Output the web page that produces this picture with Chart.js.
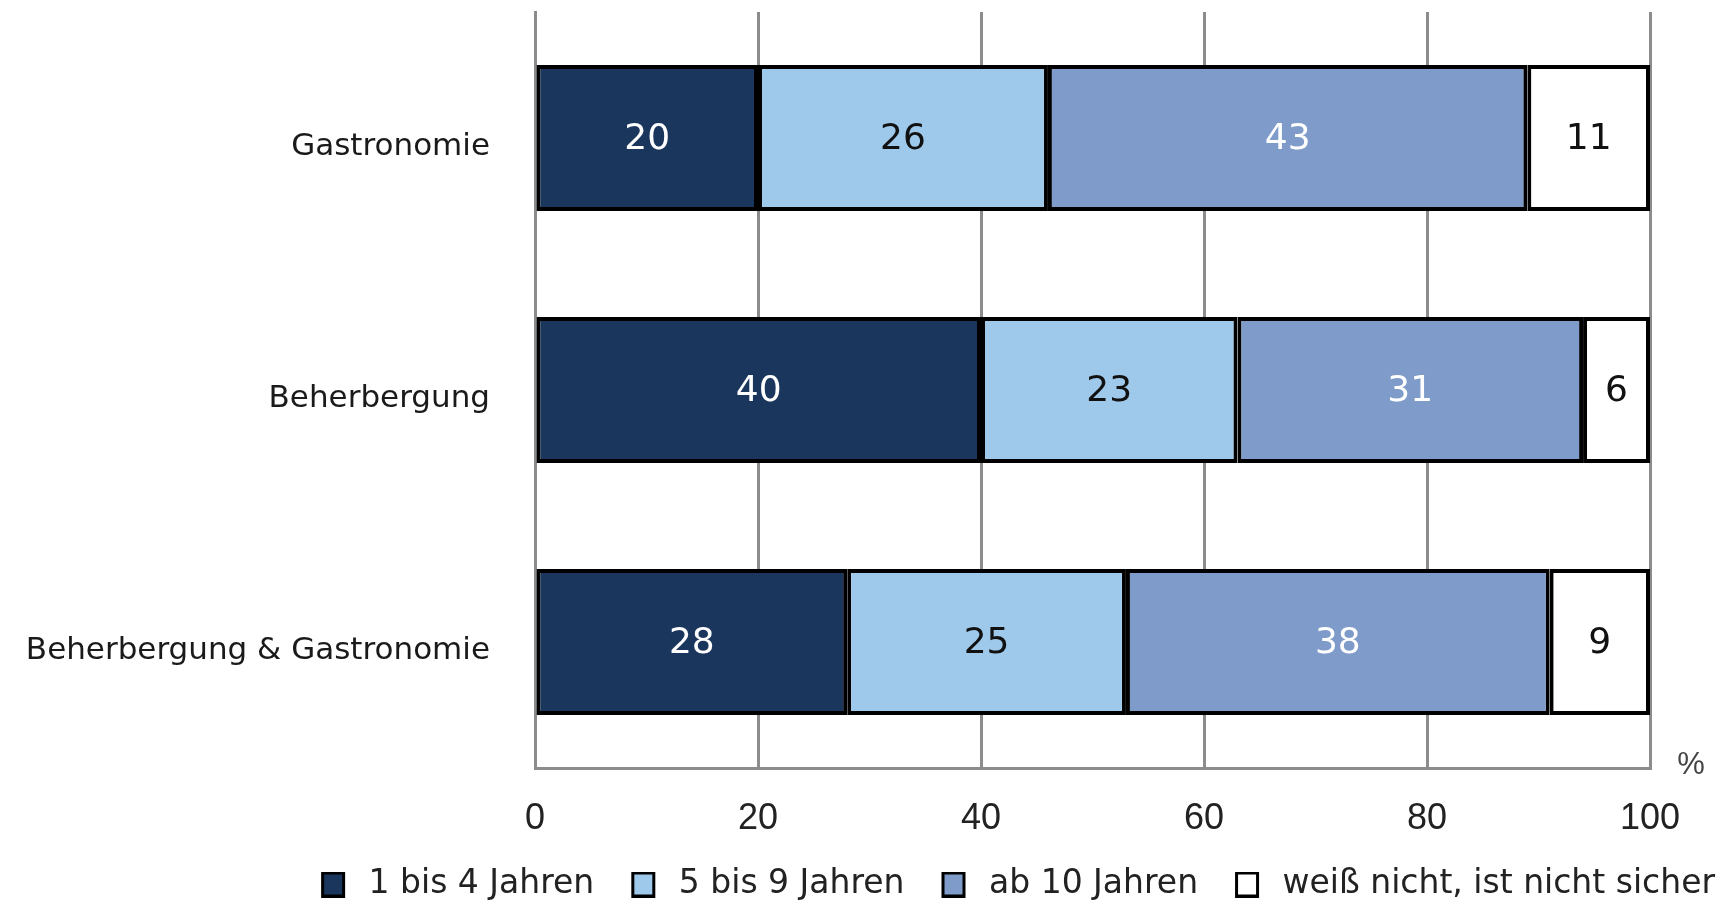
<!DOCTYPE html>
<html>
<head>
<meta charset="utf-8">
<script src="https://cdn.jsdelivr.net/npm/chart.js@4.4.1/dist/chart.umd.min.js"></script>
<style>
  html, body { margin: 0; padding: 0; background: #fff; }
  #wrap { width: 1727px; height: 900px; }
</style>
</head>
<body>
<div id="wrap"><canvas id="chart"></canvas></div>
<script>
// categories and values (percent)
const branchen = ['Gastronomie', 'Beherbergung', 'Beherbergung & Gastronomie']
const seriesNames = ['1 bis 4 Jahren', '5 bis 9 Jahren', 'ab 10 Jahren', 'weiß nicht, ist nicht sicher']
const jahre1bis4 = [20, 40, 28]
const jahre5bis9 = [26, 23, 25]
const ab10Jahre = [43, 31, 38]
const weissNicht = [11, 6, 9]
const xTicks = [0, 20, 40, 60, 80, 100]

const fills = ['#1b365d', '#9fc9eb', '#7f9bc9', '#ffffff']
const labelColors = ['#ffffff', '#111111', '#ffffff', '#111111']
const gridGray = '#8c8c8c'

// legend marker: blank gap on the left (spacing between items), then the box
const legendBox = color => {
    const c = document.createElement('canvas')
    c.width = 56
    c.height = 26
    const g = c.getContext('2d')
    g.fillStyle = color
    g.fillRect(26, 1, 21, 24)
    g.strokeStyle = '#000'
    g.lineWidth = 3
    g.strokeRect(26.5, 1.5, 21, 23)
    return c
}
const legendBoxes = fills.map(legendBox)

// numbers inside the bar segments + the % sign
const barLabels = {
    id: 'barLabels',
    afterDatasetsDraw(chart) {
        const ctx = chart.ctx
        ctx.save()
        ctx.font = '36px "DejaVu Sans"'
        ctx.textAlign = 'center'
        ctx.textBaseline = 'middle'
        chart.data.datasets.forEach((ds, i) => {
            chart.getDatasetMeta(i).data.forEach((bar, j) => {
                const cx = (bar.x + bar.base) / 2
                ctx.fillStyle = labelColors[i]
                ctx.fillText(ds.data[j], cx, bar.y + 2)
            })
        })
        const area = chart.chartArea
        ctx.font = '31px "Liberation Sans"'
        ctx.fillStyle = '#444'
        ctx.fillText('%', area.right + 41, area.bottom - 3)
        ctx.restore()
    }
}

const seriesData = [jahre1bis4, jahre5bis9, ab10Jahre, weissNicht]

const data = {
    labels: branchen,
    datasets: seriesData.map((values, i) => ({
        label: seriesNames[i],
        data: values,
        backgroundColor: fills[i],
        borderColor: '#000',
        borderWidth: 4,
        borderSkipped: false,
        categoryPercentage: 1,
        barPercentage: 0.58
    }))
}

const options = {
    indexAxis: 'y',
    responsive: true,
    maintainAspectRatio: false,
    animation: false,
    layout: { padding: { top: 12, left: 0, right: 0, bottom: 0 } },
    plugins: {
        tooltip: { enabled: false },
        legend: {
            position: 'bottom',
            align: 'end',
            maxHeight: 44,
            labels: {
                usePointStyle: true,
                pointStyleWidth: 56,
                boxHeight: 26,
                padding: 12,
                color: '#222',
                font: { family: '"DejaVu Sans"', size: 33 },
                generateLabels(chart) {
                    const items = Chart.defaults.plugins.legend.labels.generateLabels(chart)
                    items.forEach((item, i) => { item.pointStyle = legendBoxes[i] })
                    return items
                }
            }
        }
    },
    scales: {
        x: {
            stacked: true,
            min: 0,
            max: 100,
            afterBuildTicks: s => { s.ticks = xTicks.map(v => ({ value: v })) },
            afterFit: s => {
                s.height = 88
                s.paddingLeft = 0
                s.paddingRight = 0
            },
            grid: { color: gridGray, lineWidth: 3, drawTicks: false },
            border: { color: gridGray, width: 3 },
            ticks: {
                padding: 29,
                color: '#222',
                font: { family: '"Liberation Sans"', size: 36 }
            }
        },
        y: {
            stacked: true,
            afterFit: s => {
                s.width = 535
                s.paddingTop = 0
                s.paddingBottom = 0
            },
            grid: { display: false, drawTicks: false },
            border: { color: gridGray, width: 3 },
            ticks: {
                padding: 45,
                labelOffset: 9,
                color: '#1a1a1a',
                font: { family: '"DejaVu Sans"', size: 31 }
            }
        },
        yRight: {
            type: 'linear',
            position: 'right',
            afterFit: s => { s.width = 77 },
            grid: { display: false, drawTicks: false },
            border: { display: false },
            ticks: { display: false }
        }
    }
}

new Chart('chart', { type: 'bar', data, options, plugins: [barLabels] })
</script>
</body>
</html>
